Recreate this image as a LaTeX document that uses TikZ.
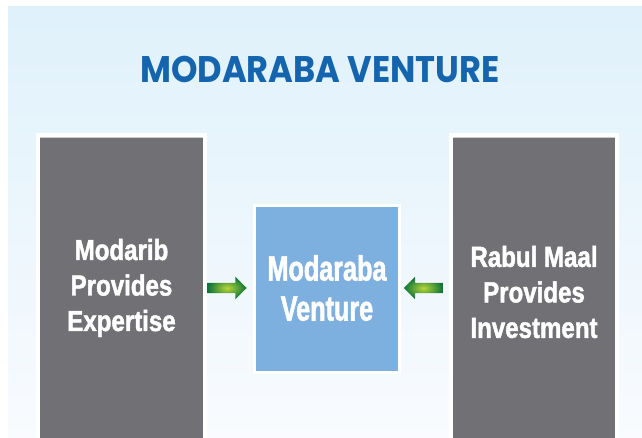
\documentclass[tikz,border=0pt]{standalone}
\usepackage{fontspec}
\usetikzlibrary{shapes.arrows}
\newfontfamily\titlefont[FakeStretch=0.91]{Poppins Bold}
\newfontfamily\condA[FakeStretch=0.83,FakeBold=1.6]{Liberation Sans Bold}
\newfontfamily\condB[FakeStretch=0.72,FakeBold=1.6]{Liberation Sans Bold}
\definecolor{bgtop}{HTML}{DFF1FB}
\definecolor{bgbot}{HTML}{F9FBFE}
\definecolor{boxgray}{HTML}{717175}
\definecolor{boxblue}{HTML}{7EB0DF}
\definecolor{titleblue}{HTML}{1565AE}
\definecolor{arrdark}{HTML}{0B7538}
\definecolor{arrlight}{HTML}{B8D638}
\tikzset{
  sidetext/.style={text=white, align=center, font=\condA\fontsize{29}{35.5}\selectfont, inner sep=0pt},
  midtext/.style={text=white, align=center, font=\condB\fontsize{35}{40}\selectfont, inner sep=0pt},
  greenarrow/.style={single arrow, draw=none, minimum height=39pt, minimum width=22pt,
    single arrow head extend=6pt, inner sep=0pt, inner ysep=5pt, shading=radial,
    inner color=arrlight, outer color=arrdark}
}
\begin{document}
\begin{tikzpicture}[x=1pt,y=-1pt]
\useasboundingbox (0,0) rectangle (642,438);
\shade[top color=bgtop, bottom color=bgbot] (8,7) rectangle (642,438);
% title
\node[text=titleblue, font=\titlefont\fontsize{37}{40}\selectfont, anchor=base, inner sep=0pt] (title) at (320,83) {MODARABA VENTURE};
% left box
\fill[white] (36,133) rectangle (207,438);
\fill[boxgray] (40,137) rectangle (203,438);
\draw[gray!40, line width=0.8pt] (40,137.4) -- (203,137.4);
\node[sidetext] (modarib) at (121.5,288) {Modarib\\Provides\\Expertise};
% right box
\fill[white] (449,133) rectangle (619,438);
\fill[boxgray] (453,137) rectangle (615,438);
\draw[gray!40, line width=0.8pt] (453,137.4) -- (615,137.4);
\node[sidetext] (rabul) at (534,292) {Rabul Maal\\Provides\\Investment};
% center box
\fill[white] (253,204) rectangle (401,374);
\fill[boxblue] (256,207) rectangle (398,371);
\node[midtext] (venture) at (327,288) {Modaraba\\Venture};
% arrows
\node[greenarrow] (arrL) at (224.5,288) {};
\node[greenarrow, shape border rotate=180] (arrR) at (426,288) {};
\end{tikzpicture}
\end{document}
